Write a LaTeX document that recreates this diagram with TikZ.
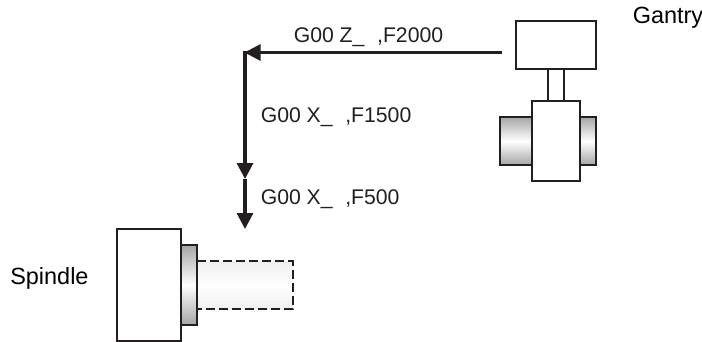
\documentclass[tikz,border=0pt]{standalone}
\usepackage{fontspec}
\setmainfont{Liberation Sans}
\usetikzlibrary{arrows.meta,calc}
\usetikzlibrary{positioning}
\definecolor{inkc}{HTML}{231F20}
\tikzset{part/.style={draw=inkc,line width=1.15pt,fill=white},
  roller/.style={draw=inkc,line width=1.15pt,top color=gray!70,bottom color=gray!70,middle color=white},
  motion/.style={draw=inkc,line width=2.3pt},
  lbl/.style={text=inkc,anchor=base west,inner sep=0pt,font=\fontsize{15.9}{18}\selectfont},
  unitlbl/.style={lbl,text=black,font=\fontsize{17.6}{20}\selectfont}}
\newcommand{\gcgap}{\hspace{9.5pt}}

\begin{document}
\begin{tikzpicture}[x=0.75pt,y=-0.75pt,>={Triangle[width=12pt,length=12pt]},line join=miter]
\useasboundingbox (0,0) rectangle (702,342);
% --- gantry
\path[roller] (500,117) rectangle (532,165);
\path[roller] (580,117) rectangle (596,165);
\path[part] (548,69) rectangle (564,101);
\path[part] (516,21) rectangle (596,69);
\path[part] (532,101) rectangle (580,181);
% --- spindle
\fill[top color=gray!12,bottom color=gray!12,middle color=white] (197,261) rectangle (293,309);
\draw[inkc,line width=1.15pt,dash pattern=on 6.8pt off 3pt] (197,261) -- (293,261) -- (293,309) -- (197,309);
\path[roller] (181,245) rectangle (197,325);
\path[part] (117,229) rectangle (181,341);
% --- motion path
\coordinate (start) at (502,52.5);
\coordinate (corner) at (244.5,52.5);
\coordinate (cornertop) at (245,51);
\coordinate (slow) at (245,179);
\coordinate (stop) at (245,229);
\draw[motion,->] (start) -- (corner);
\draw[motion,->] (cornertop) -- (slow);
\draw[motion,->] (slow) -- (stop);
% --- labels
\node[lbl] (zrapid) at (293.5,42.3) {G00 Z\_\gcgap,F2000};
\node[lbl] (xrapid) at (260.5,122.7) {G00 X\_\gcgap,F1500};
\node[lbl] (xfeed) at (260.5,204) {G00 X\_\gcgap,F500};
\node[unitlbl] (spindle) at (10,284) {Spindle};
\node[unitlbl] (gantry) at (632.5,23.3) {Gantry};
\end{tikzpicture}
\end{document}
